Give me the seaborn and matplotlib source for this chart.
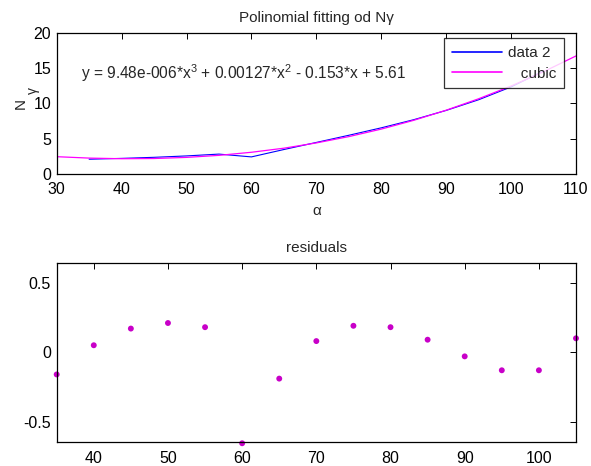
import numpy as np
import pandas as pd
import matplotlib
matplotlib.use("Agg")
import matplotlib.pyplot as plt
import seaborn as sns

# data
alpha_data = [35, 40, 45, 50, 55, 60, 65, 70, 75, 80, 85, 90, 95, 100, 105]
n_gamma = [2.06, 2.18, 2.33, 2.53, 2.79, 2.39, 3.44, 4.45, 5.47, 6.53,
           7.69, 9.01, 10.53, 12.36, 14.62]

alpha_fit = [30, 35, 40, 45, 50, 55, 60, 65, 70, 75, 80, 85, 90, 95, 100, 105, 110]
cubic_fit = [2.42, 2.22, 2.13, 2.16, 2.32, 2.61, 3.05, 3.63, 4.38, 5.28,
             6.35, 7.60, 9.04, 10.67, 12.49, 14.52, 16.77]

residuals = [-0.16, 0.05, 0.17, 0.21, 0.18, -0.655, -0.19, 0.08, 0.19, 0.18,
             0.09, -0.03, -0.13, -0.13, 0.10]

equation = r"y = 9.48e-006*x$^3$ + 0.00127*x$^2$ - 0.153*x + 5.61"

sns.set_theme(style="white")
plt.rcParams["font.family"] = ["Liberation Sans", "DejaVu Sans"]
plt.rcParams["mathtext.fontset"] = "custom"
plt.rcParams["mathtext.rm"] = "Liberation Sans"
plt.rcParams["mathtext.it"] = "Liberation Sans:italic"

fig = plt.figure(figsize=(5.91, 4.66), dpi=100)
ax1 = fig.add_axes([0.0959, 0.6273, 0.8787, 0.3013])
ax2 = fig.add_axes([0.0959, 0.0509, 0.8787, 0.3854])

df = pd.DataFrame({"alpha": alpha_data, "N": n_gamma, "res": residuals})
fit = pd.DataFrame({"alpha": alpha_fit, "N": cubic_fit})

sns.lineplot(data=df, x="alpha", y="N", ax=ax1, color="blue", lw=0.8, label="data 2")
sns.lineplot(data=fit, x="alpha", y="N", ax=ax1, color="magenta", lw=0.9, label="   cubic")

ax1.set_xlim(30, 110)
ax1.set_ylim(0, 20)
ax1.set_xticks(range(30, 111, 10))
ax1.set_yticks(range(0, 21, 5))
ax1.set_title("Polinomial fitting od N\u03b3", fontsize=11, pad=8)
ax1.set_xlabel("\u03b1", fontsize=11, labelpad=5)
ax1.set_ylabel("N", fontsize=11, labelpad=4)
fig.text(33 / 591, 1 - 90 / 466, "\u03b3", rotation=90, fontsize=10,
         ha="center", va="center")
ax1.text(33.8, 14.3, equation, fontsize=11.2, va="center")

leg = ax1.legend(loc="upper right", bbox_to_anchor=(0.9775, 0.9644), fontsize=11,
                 frameon=True, fancybox=False, edgecolor="black",
                 handlelength=3.3, borderpad=0.5, labelspacing=0.45,
                 handletextpad=0.4, borderaxespad=0)
leg.get_frame().set_linewidth(0.9)
for line in leg.get_lines():
    line.set_linewidth(1.2)

sns.scatterplot(data=df, x="alpha", y="res", ax=ax2, color="#c800c8",
                s=18, edgecolor="none", clip_on=False)
ax2.set_xlim(35, 105)
ax2.set_ylim(-0.648, 0.644)
ax2.set_xticks(range(40, 101, 10))
ax2.set_yticks([-0.5, 0, 0.5])
ax2.set_yticklabels(["-0.5", "0", "0.5"])
ax2.set_title("residuals", fontsize=11, pad=8)
ax2.set_xlabel("")
ax2.set_ylabel("")

for ax in (ax1, ax2):
    for s in ax.spines.values():
        s.set_visible(True)
        s.set_color("black")
        s.set_linewidth(0.9)
    ax.tick_params(direction="in", length=4, width=0.7, top=True, right=True,
                   labelsize=11.5, colors="black")
    ax.tick_params(axis="x", pad=6)
    ax.tick_params(axis="y", pad=4)

fig.savefig("out.png", dpi=100)
